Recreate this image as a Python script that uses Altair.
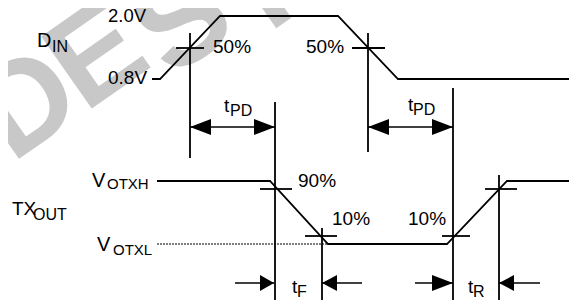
import altair as alt
import pandas as pd

# ---------------- data (diagram units = pixel grid of the figure) ----------------
# D_IN waveform
din_t = [152, 160, 220, 338, 398, 574]
din_v = [79, 79, 16, 16, 79, 79]
# TX_OUT waveform
tx_t = [157, 270, 328, 447, 507, 570]
tx_v = [181, 181, 244, 244, 181, 181]
# V_OTXL dotted reference
votxl_t = [157, 327]
votxl_v = [244, 244]

# vertical timing markers: x, y_top, y_bottom
vmark_x = [190, 275, 368, 453, 322, 499]
vmark_y1 = [33, 102, 33, 88, 228, 175]
vmark_y2 = [158, 300, 152, 300, 300, 300]

# crosshair horizontals: x1, x2, y
cross_x1 = [176, 352, 260, 305, 442, 485]
cross_x2 = [204, 385, 292, 337, 470, 517]
cross_y = [48, 48, 189, 236, 236, 189]

# dimension arrows: shaft x1, x2, y
shaft_x1 = [190, 368, 235, 322, 415, 499]
shaft_x2 = [275, 453, 274, 362, 453, 540]
shaft_y = [127, 127, 283, 283, 283, 283]

# arrow heads: tip x, tip y, direction (+1 right, -1 left), length
head_x = [190, 275, 368, 453, 274, 322, 453, 499]
head_y = [127, 127, 127, 127, 283, 283, 283, 283]
head_dir = [-1, 1, -1, 1, 1, -1, 1, -1]
head_len = [21, 21, 21, 21, 14, 15, 21, 15]

# labels
lab_text = ["2.0V", "D", "IN", "0.8V", "50%", "50%", "t", "PD", "t", "PD",
            "V", "OTXH", "TX", "OUT", "V", "OTXL", "90%", "10%", "10%",
            "t", "F", "t", "R"]
lab_x = [108, 37, 52, 108, 213, 306, 224, 230, 408, 413,
         92, 107, 12, 33, 97, 113, 298, 332, 408,
         292, 297, 468, 473]
lab_y = [22, 47, 52, 84, 53, 53, 112, 116, 111, 115,
         187, 189, 215, 220, 251, 255, 187, 225, 225,
         293, 297, 293, 297]
lab_size = [18.5, 20, 16, 19, 19, 19, 19, 16, 19, 16,
            20, 15, 19, 16, 20, 15, 19, 19, 19,
            19, 16, 19, 16]

# watermark letters (centre positions)
wm_text = ["D", "E", "S", "I"]
wm_x = [28, 98, 184, 262]
wm_y = [106, 58, 24, -8]

# ---------------- chart ----------------
W, H = 561, 292
xs = alt.Scale(domain=[8, 8 + W], zero=False, nice=False)
ys = alt.Scale(domain=[8, 8 + H], zero=False, nice=False, reverse=True)
FONT = "Liberation Sans"


def X(f="x"):
    return alt.X(f"{f}:Q", scale=xs, axis=None)


def Y(f="y"):
    return alt.Y(f"{f}:Q", scale=ys, axis=None)


wm = alt.Chart(pd.DataFrame({"x": wm_x, "y": wm_y, "t": wm_text})).mark_text(
    font="Liberation Sans", fontWeight="bold", fontSize=128, angle=325,
    align="center", baseline="middle", color="#c8c8c8"
).encode(x=X(), y=Y(), text="t:N")

wave_df = pd.concat([
    pd.DataFrame({"x": din_t, "y": din_v, "o": range(len(din_t)), "s": "din"}),
    pd.DataFrame({"x": tx_t, "y": tx_v, "o": range(len(tx_t)), "s": "tx"}),
])
waves = alt.Chart(wave_df).mark_line(color="black", strokeWidth=1.8).encode(
    x=X(), y=Y(), order="o:Q", detail="s:N")

dotted = alt.Chart(pd.DataFrame({"x": votxl_t, "y": votxl_v})).mark_line(
    color="#555555", strokeWidth=1.5, strokeDash=[2, 1]).encode(x=X(), y=Y())

vm = alt.Chart(pd.DataFrame({"x": vmark_x, "y": vmark_y1, "y2": vmark_y2})).mark_rule(
    color="black", strokeWidth=1.8).encode(x=X(), y=Y(), y2="y2:Q")

cr = alt.Chart(pd.DataFrame({"x": cross_x1, "x2": cross_x2, "y": cross_y})).mark_rule(
    color="black", strokeWidth=1.8).encode(x=X(), x2="x2:Q", y=Y())

sh = alt.Chart(pd.DataFrame({"x": shaft_x1, "x2": shaft_x2, "y": shaft_y})).mark_rule(
    color="black", strokeWidth=1.6).encode(x=X(), x2="x2:Q", y=Y())

shapes = []
for d, L in zip(head_dir, head_len):
    h = 8.0 / L
    if d > 0:
        shapes.append(f"M0,0L-1,{-h:.3f}L-1,{h:.3f}Z")
    else:
        shapes.append(f"M0,0L1,{-h:.3f}L1,{h:.3f}Z")
head_df = pd.DataFrame({"x": head_x, "y": head_y, "shape": shapes,
                        "size": [(2 * L) ** 2 for L in head_len]})
heads = alt.Chart(head_df).mark_point(filled=True, color="black", opacity=1,
                                      strokeWidth=0).encode(
    x=X(), y=Y(), shape=alt.Shape("shape:N", scale=None),
    size=alt.Size("size:Q", scale=None))

labels = alt.Chart(pd.DataFrame({"x": lab_x, "y": lab_y, "t": lab_text, "s": lab_size})).mark_text(
    font=FONT, align="left", baseline="alphabetic", color="black"
).encode(x=X(), y=Y(), text="t:N", size=alt.Size("s:Q", scale=None))

chart = alt.layer(wm, dotted, waves, vm, cr, sh, heads, labels).properties(
    width=W, height=H, padding=0, autosize=alt.AutoSizeParams(type="none")
).configure_view(stroke=None)

chart.save("out.html", embed_options={"renderer": "svg", "actions": False})
